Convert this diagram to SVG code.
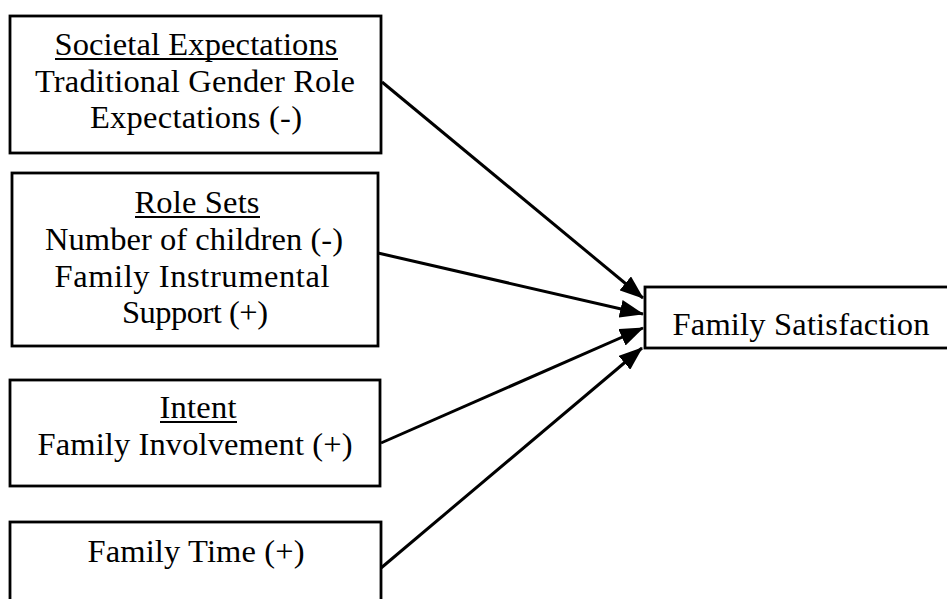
<svg xmlns="http://www.w3.org/2000/svg" width="947" height="599" viewBox="0 0 947 599">
<style>
.box{fill:#fff;stroke:#000;stroke-width:2.8}
.t{font-family:"Liberation Serif","Times New Roman",serif;font-size:32.5px;fill:#000;text-anchor:middle}
.ul{stroke:#000;stroke-width:2}
.c{stroke:#000;stroke-width:3;fill:none;marker-end:url(#ah)}
</style>
<defs>
<marker id="ah" markerUnits="userSpaceOnUse" markerWidth="24" markerHeight="18" refX="23" refY="9" orient="auto" viewBox="0 0 24 18">
<path d="M0,0 L24,9 L0,18 z" fill="#000"/>
</marker>
</defs>
<rect width="947" height="599" fill="#fff"/>
<g id="connectors">
<line class="c" x1="382" y1="82" x2="643" y2="298"/>
<line class="c" x1="378" y1="253" x2="643" y2="314"/>
<line class="c" x1="381" y1="443" x2="643" y2="328"/>
<line class="c" x1="381" y1="568" x2="642" y2="348"/>
</g>
<g id="societal">
<rect class="box" x="10" y="16" width="371" height="137"/>
<text class="t" x="196" y="55" textLength="283" lengthAdjust="spacing">Societal Expectations</text>
<line class="ul" x1="55" y1="59" x2="338" y2="59"/>
<text class="t" x="195" y="92" textLength="320" lengthAdjust="spacing">Traditional Gender Role</text>
<text class="t" x="196" y="128" textLength="212" lengthAdjust="spacing">Expectations (-)</text>
</g>
<g id="rolesets">
<rect class="box" x="12" y="173" width="366" height="173"/>
<text class="t" x="197" y="213" textLength="125" lengthAdjust="spacing">Role Sets</text>
<line class="ul" x1="135" y1="217" x2="260" y2="217"/>
<text class="t" x="194" y="250" textLength="298" lengthAdjust="spacing">Number of children (-)</text>
<text class="t" x="192" y="287" textLength="275" lengthAdjust="spacing">Family Instrumental</text>
<text class="t" x="195" y="323" textLength="146" lengthAdjust="spacing">Support (+)</text>
</g>
<g id="intent">
<rect class="box" x="10" y="380" width="370" height="106"/>
<text class="t" x="198" y="418" textLength="77" lengthAdjust="spacing">Intent</text>
<line class="ul" x1="160" y1="422" x2="237" y2="422"/>
<text class="t" x="195" y="455" textLength="315" lengthAdjust="spacing">Family Involvement (+)</text>
</g>
<g id="familytime">
<rect class="box" x="10" y="522" width="371" height="90"/>
<text class="t" x="196" y="562" textLength="217" lengthAdjust="spacing">Family Time (+)</text>
</g>
<g id="satisfaction">
<rect class="box" x="645" y="287" width="320" height="61"/>
<text class="t" x="801" y="335" textLength="257" lengthAdjust="spacing">Family Satisfaction</text>
</g>
</svg>
